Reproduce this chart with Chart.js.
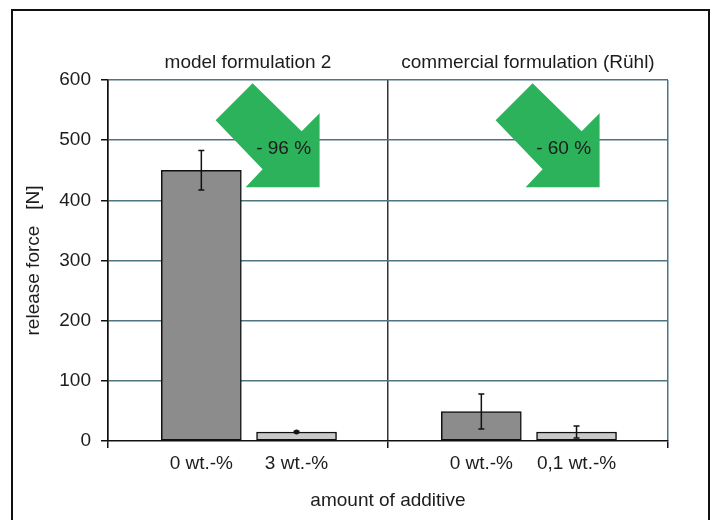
<!DOCTYPE html>
<html>
<head>
<meta charset="utf-8">
<script src="https://cdn.jsdelivr.net/npm/chart.js@4"></script>
<style>
  html, body { margin: 0; padding: 0; background: #fff; }
  #wrap { width: 717px; height: 520px; }
</style>
</head>
<body>
<div id="wrap"><canvas id="myChart" width="717" height="520"></canvas></div>
<script>
// values
const xPositions = [1, 2.02, 4, 5.02]
const tickLabels = ['0 wt.-%', '3 wt.-%', '0 wt.-%', '0,1 wt.-%']
const releaseForce = [450, 15, 49, 15]
const errors = [33, 1, 29, 10]
const groupTitles = ['model formulation 2', 'commercial formulation (Rühl)']
const groupCenters = [1.5, 4.5]
const arrowLabels = ['- 96 %', '- 60 %']
const arrowX = [1.71, 4.71]
const arrowY = [508, 508]

const ctx = document.getElementById('myChart')
const font = 'Liberation Sans, Arial, sans-serif'
const textColor = '#1c1c1c'
const gridColor = '#4e7482'

// outer frame + group titles + arrows + error bars
const extras = {
  id: 'extras',
  beforeDraw(chart) {
    const c = chart.ctx
    c.save()
    c.fillStyle = '#fff'
    c.fillRect(0, 0, chart.width, chart.height)
    c.restore()
  },
  afterDatasetsDraw(chart) {
    const c = chart.ctx
    const x = chart.scales.x
    const y = chart.scales.y
    c.save()

    // error bars
    c.strokeStyle = '#111'
    c.fillStyle = '#111'
    c.lineWidth = 1.5
    releaseForce.forEach((v, i) => {
      const px = x.getPixelForValue(xPositions[i])
      const top = y.getPixelForValue(v + errors[i])
      const bot = y.getPixelForValue(v - errors[i])
      c.beginPath()
      c.moveTo(px, top); c.lineTo(px, bot)
      c.moveTo(px - 3, top); c.lineTo(px + 3, top)
      c.moveTo(px - 3, bot); c.lineTo(px + 3, bot)
      c.stroke()
      if (errors[i] < 3) {
        c.beginPath()
        c.arc(px, y.getPixelForValue(v), 2.5, 0, Math.PI * 2)
        c.fill()
      }
    })

    // green arrows
    const pts = [[-15, -52], [34, -4], [52, -22], [52, 52], [-22, 52], [-5, 34], [-52, -15]]
    arrowLabels.forEach((lab, i) => {
      const cx = x.getPixelForValue(arrowX[i])
      const cy = y.getPixelForValue(arrowY[i])
      c.fillStyle = '#2cb25a'
      c.beginPath()
      pts.forEach((p, k) => (k ? c.lineTo(cx + p[0], cy + p[1]) : c.moveTo(cx + p[0], cy + p[1])))
      c.closePath()
      c.fill()
      c.fillStyle = textColor
      c.font = '19px ' + font
      c.textAlign = 'center'
      c.textBaseline = 'middle'
      c.fillText(lab, cx + 16, cy + 13)
    })

    // group titles
    c.fillStyle = textColor
    c.font = '19px ' + font
    c.textAlign = 'center'
    c.textBaseline = 'middle'
    groupTitles.forEach((t, i) => {
      c.fillText(t, x.getPixelForValue(groupCenters[i]), chart.chartArea.top - 17)
    })

    // frame
    c.strokeStyle = '#111'
    c.lineWidth = 2
    c.strokeRect(12, 10, 697, 530)
    c.restore()
  }
}

new Chart(ctx, {
  type: 'bar',
  data: {
    datasets: [
      {
        data: xPositions.map((xv, i) => ({ x: xv, y: releaseForce[i] })),
        backgroundColor: ['#8c8c8c', '#c9c9c9', '#8c8c8c', '#c9c9c9'],
        borderColor: '#111',
        borderWidth: 1.5,
        borderSkipped: false,
        barThickness: 80
      }
    ]
  },
  options: {
    responsive: false,
    animation: false,
    layout: { padding: { left: 12, right: 49, top: 80, bottom: 0 } },
    plugins: { legend: { display: false }, tooltip: { enabled: false } },
    scales: {
      x: {
        type: 'linear',
        min: 0,
        max: 6,
        offset: false,
        afterBuildTicks: (s) => { s.ticks = [0, 3, 6].concat(xPositions).map((v) => ({ value: v })) },
        afterFit: (s) => { s.height = 79 },
        border: { color: '#111', width: 1.5 },
        grid: {
          offset: false,
          color: (c) => (c.tick && c.tick.value === 6 ? gridColor : (c.tick && c.tick.value % 3 === 0 ? '#333' : 'rgba(0,0,0,0)')),
          lineWidth: 1.5,
          tickLength: 7,
          tickColor: (c) => (c.tick && c.tick.value % 3 === 0 ? '#111' : 'rgba(0,0,0,0)')
        },
        ticks: {
          autoSkip: false,
          maxRotation: 0,
          padding: 4,
          color: textColor,
          font: { family: font, size: 19 },
          callback: (v) => { const i = xPositions.indexOf(v); return i >= 0 ? tickLabels[i] : '' }
        },
        title: {
          display: true,
          text: 'amount of additive',
          color: textColor,
          font: { family: font, size: 19 },
          padding: { top: 2, bottom: 8 }
        }
      },
      y: {
        min: 0,
        max: 600,
        afterFit: (s) => { s.width = 96 },
        border: { color: '#111', width: 1.5 },
        grid: {
          color: (c) => (c.tick && c.tick.value === 0 ? 'rgba(0,0,0,0)' : gridColor),
          lineWidth: 1.5,
          tickLength: 7,
          tickColor: '#111'
        },
        ticks: {
          stepSize: 100,
          padding: 10,
          color: textColor,
          font: { family: font, size: 19 }
        },
        title: {
          display: true,
          text: 'release force   [N]',
          color: textColor,
          font: { family: font, size: 19 },
          padding: { top: 10, bottom: 0 }
        }
      }
    }
  },
  plugins: [extras]
})
</script>
</body>
</html>
